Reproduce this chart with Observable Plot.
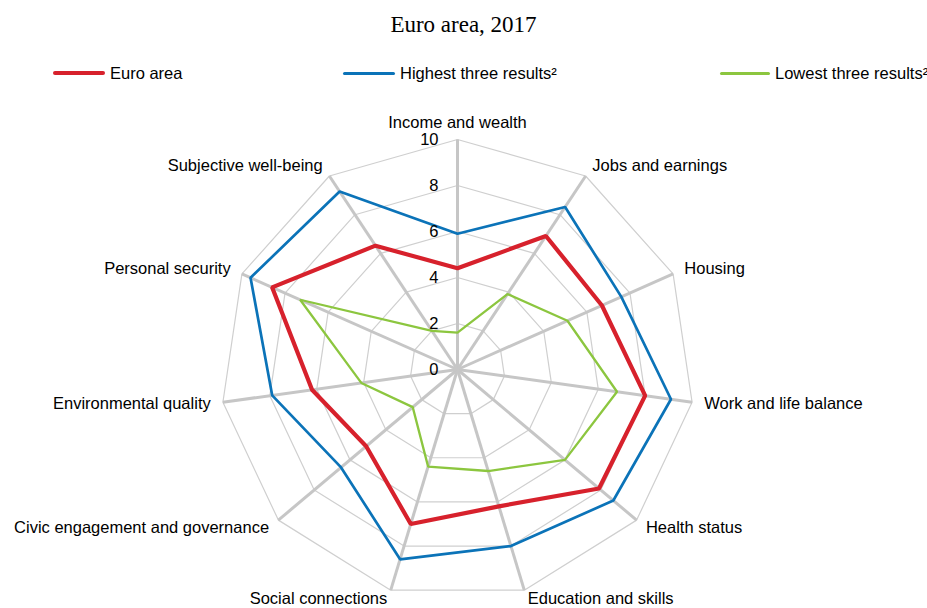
<!DOCTYPE html>
<html><head><meta charset="utf-8">
<script src="https://cdn.jsdelivr.net/npm/d3@7"></script>
<script src="https://cdn.jsdelivr.net/npm/@observablehq/plot@0.6"></script>
<style>
body{margin:0;background:#fff;width:927px;height:608px;position:relative;overflow:hidden;font-family:"Liberation Sans",Arial,sans-serif;color:#000;}
#title{position:absolute;top:12px;left:0;width:927px;text-align:center;font-family:"Liberation Serif","Times New Roman",serif;font-size:23px;line-height:26px;}
#legend{position:absolute;top:62px;left:0;width:927px;height:22px;}
.li{position:absolute;top:0;height:22px;display:flex;align-items:center;font-size:16.5px;white-space:nowrap;}
.sw{display:inline-block;margin-right:5px;border-radius:2px;}
#chart{position:absolute;top:90px;left:0;}
</style>
</head><body>
<div id="title">Euro area, 2017</div>
<div id="legend"></div>
<div id="chart"></div>
<script>
const categories = ["Income and wealth","Jobs and earnings","Housing","Work and life balance","Health status","Education and skills","Social connections","Civic engagement and governance","Environmental quality","Personal security","Subjective well-being"];
const seriesNames = ["Euro area","Highest three results²","Lowest three results²"];
const euroArea     = [4.4, 6.9, 6.7, 8.0, 7.9, 6.2, 7.0, 5.1, 6.2, 8.6, 6.4];
const highestThree = [5.9, 8.4, 7.6, 9.1, 8.7, 8.0, 8.6, 6.5, 7.9, 9.6, 9.2];
const lowestThree  = [1.6, 3.9, 5.1, 6.8, 6.0, 4.6, 4.4, 2.5, 4.1, 7.3, 2.0];
const tickValues = [0, 2, 4, 6, 8, 10];
const colors = ["#d7212c", "#0b73b8", "#8cc63f"];
const widths = [4.2, 2.7, 2.3];

const n = categories.length;
const ang = i => i * 2 * Math.PI / n;
const px = (v, i) => v * Math.sin(ang(i));
const py = (v, i) => v * Math.cos(ang(i));
const maxV = d3.max(tickValues);

// legend
const legend = document.getElementById("legend");
const legendLeft = [53, 343, 720];
const legendLen = [52, 52, 50];
seriesNames.forEach((s, k) => {
  const d = document.createElement("div");
  d.className = "li";
  d.style.left = legendLeft[k] + "px";
  d.innerHTML = `<span class="sw" style="width:${legendLen[k]}px;height:${k===0?4:3}px;background:${colors[k]}"></span><span>${s}</span>`;
  legend.appendChild(d);
});

const seriesData = [euroArea, highestThree, lowestThree];
const seriesRows = seriesData.map((vals, k) => vals.map((v, i) => ({series: seriesNames[k], i, v})));

const gridRows = tickValues.filter(t => t > 0).flatMap(t => categories.map((c, i) => ({t, i})));
const spokes = categories.map((c, i) => ({c, i}));
const labelR = maxV + 0.52;
const labels = categories.map((c, i) => ({c, i}));
const isBottom = d => Math.cos(ang(d.i)) < -0.9;

const plot = Plot.plot({
  width: 927,
  height: 518,
  x: {domain: [-10, 10], range: [220, 694], axis: null},
  y: {domain: [-10, 10], range: [509, 49], axis: null},
  style: {fontFamily: '"Liberation Sans", Arial, sans-serif', fontSize: "16.5px", background: "white", overflow: "visible", color: "#000"},
  marks: [
    Plot.line(gridRows, {x: d => px(d.t, d.i), y: d => py(d.t, d.i), z: "t", curve: "linear-closed", stroke: "#cfcfcf", strokeWidth: 1.2}),
    Plot.link(spokes, {x1: 0, y1: 0, x2: d => px(maxV, d.i), y2: d => py(maxV, d.i), stroke: "#c6c6c6", strokeWidth: 3}),
    ...[2, 1, 0].map(k => Plot.line(seriesRows[k], {x: d => px(d.v, d.i), y: d => py(d.v, d.i), curve: "linear-closed", stroke: colors[k], strokeWidth: widths[k], strokeLinejoin: "miter"})),
    Plot.text(tickValues, {x: 0, y: d => d, text: d => String(d), textAnchor: "end", dx: -19, fontSize: 16.5, fill: "#000"}),
    Plot.text(labels.filter(d => d.i === 0), {x: d => px(labelR, d.i), y: d => py(labelR, d.i), text: "c", textAnchor: "middle", lineAnchor: "bottom", fill: "#000"}),
    Plot.text(labels.filter(d => d.i > 0 && d.i <= n / 2 && !isBottom(d)), {x: d => px(labelR, d.i), y: d => py(labelR, d.i), text: "c", textAnchor: "start", lineAnchor: "middle", fill: "#000"}),
    Plot.text(labels.filter(d => d.i > n / 2 && !isBottom(d)), {x: d => px(labelR, d.i), y: d => py(labelR, d.i), text: "c", textAnchor: "end", lineAnchor: "middle", fill: "#000"}),
    Plot.text(labels.filter(d => d.i <= n / 2 && isBottom(d)), {x: d => px(labelR, d.i), y: d => py(labelR, d.i), text: "c", textAnchor: "start", lineAnchor: "middle", dy: -3, fill: "#000"}),
    Plot.text(labels.filter(d => d.i > n / 2 && isBottom(d)), {x: d => px(labelR, d.i), y: d => py(labelR, d.i), text: "c", textAnchor: "end", lineAnchor: "middle", dy: -3, fill: "#000"})
  ]
});
document.getElementById("chart").appendChild(plot);
</script>
</body></html>
